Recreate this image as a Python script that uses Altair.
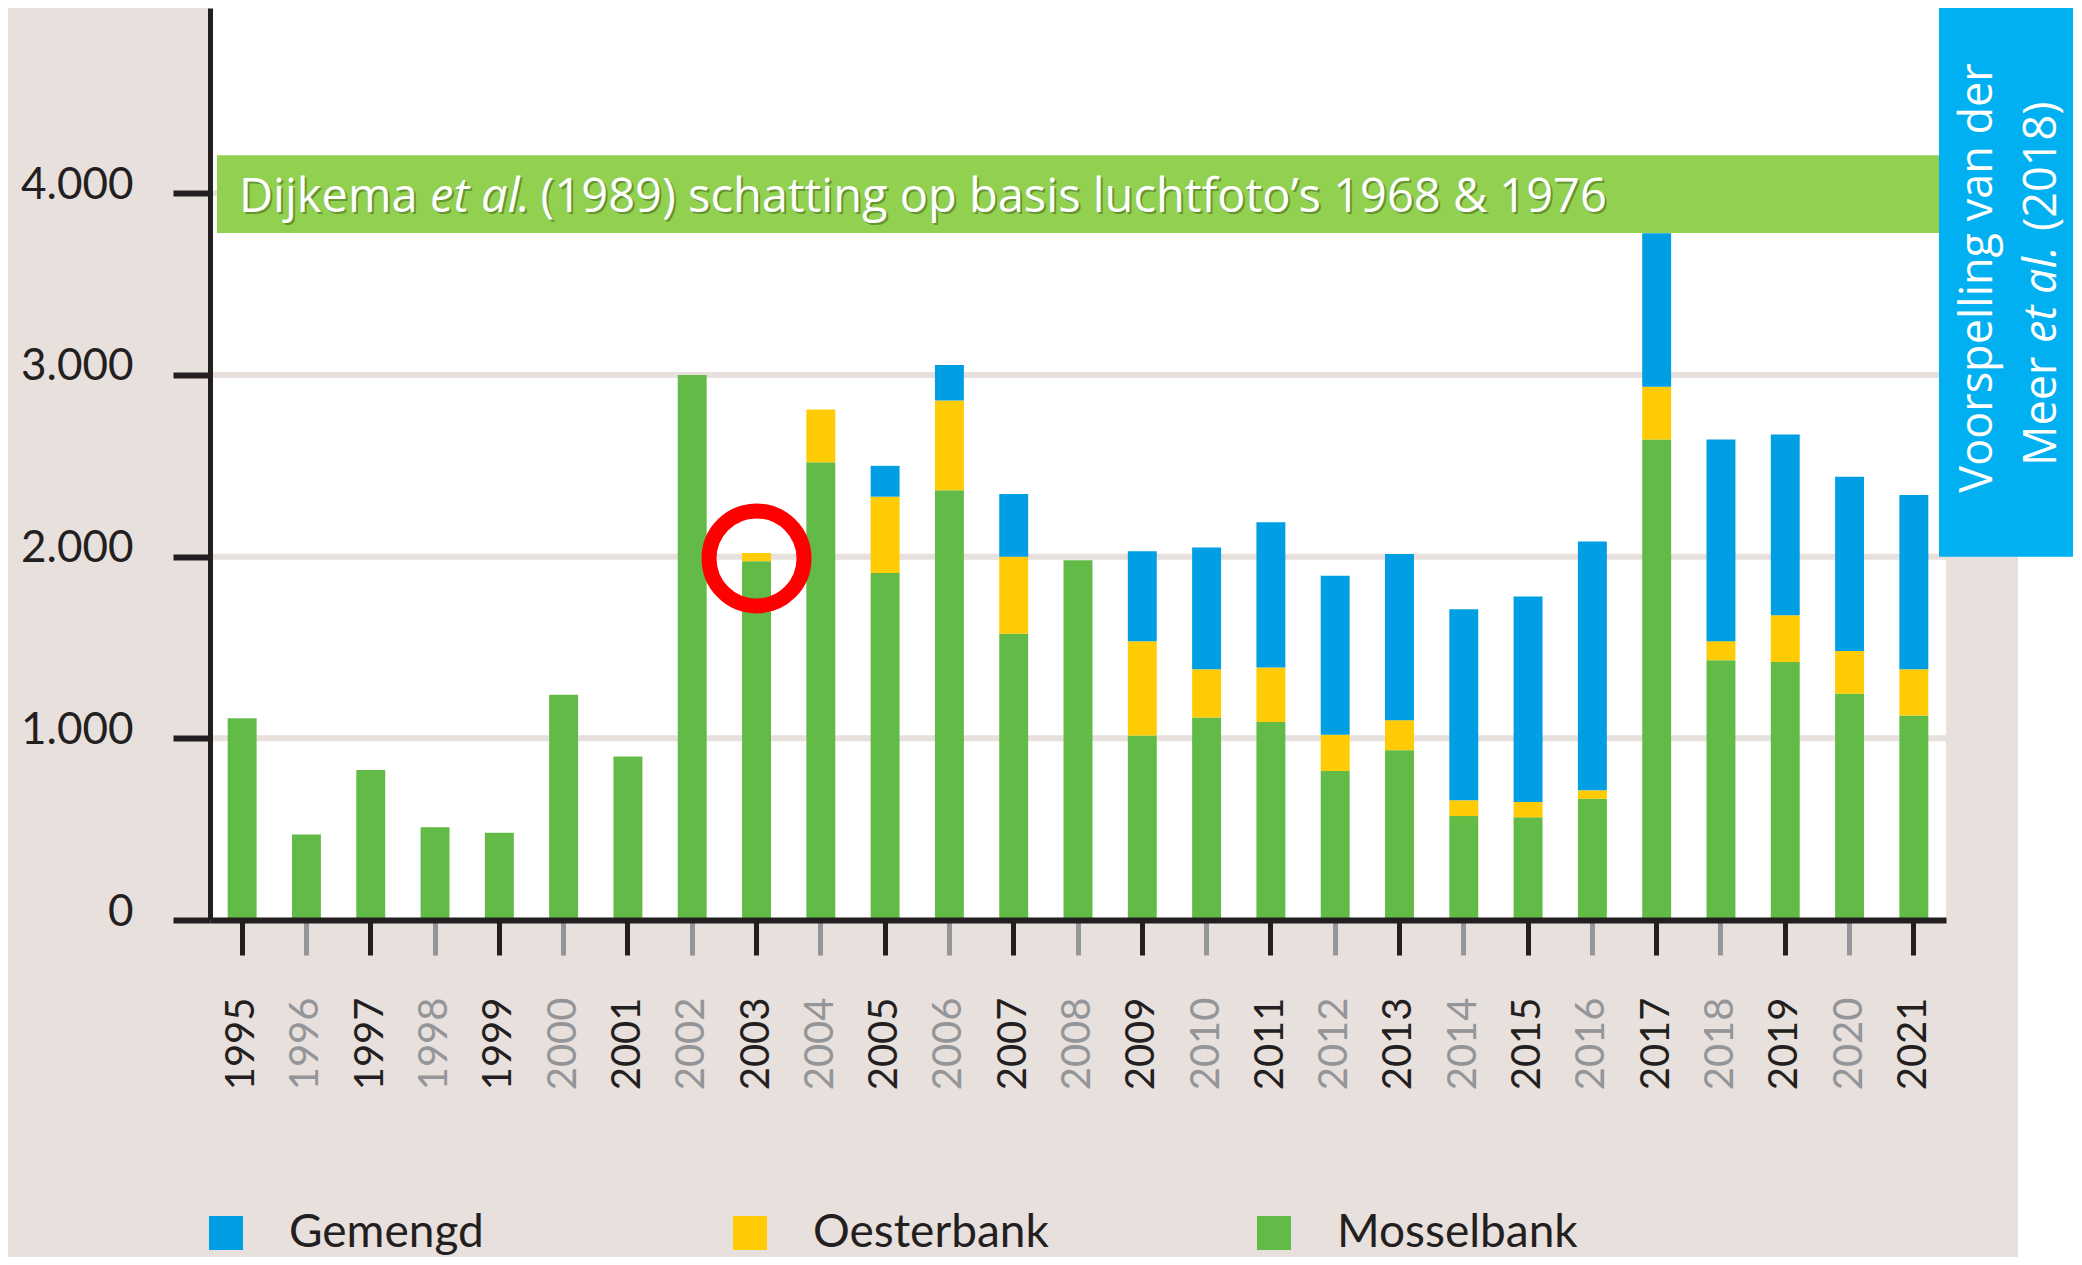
import altair as alt
import pandas as pd

# ---------------- data ----------------
years = list(range(1995, 2022))
mosselbank = [1110, 470, 825, 510, 480, 1240, 900, 3000, 1975, 2520, 1910, 2365, 1575,
              1980, 1015, 1115, 1090, 820, 935, 572, 565, 667, 2645, 1430, 1420, 1245, 1125]
oesterbank = [0, 0, 0, 0, 0, 0, 0, 0, 45, 290, 420, 495, 425,
              0, 520, 265, 300, 200, 165, 87, 85, 47, 290, 105, 257, 235, 255]
gemengd = [0, 0, 0, 0, 0, 0, 0, 0, 0, 0, 170, 195, 345,
           0, 495, 670, 800, 875, 915, 1052, 1130, 1370, 845, 1110, 995, 960, 960]
categories = ["Gemengd", "Oesterbank", "Mosselbank"]
stack_order = {"Mosselbank": 0, "Oesterbank": 1, "Gemengd": 2}
y_ticks = [0, 1000, 2000, 3000, 4000]
grid_values = [1000, 2000, 3000, 4000]
dijkema_range = [3781, 4210]      # estimate band (value range)
vandermeer_range = [2000, 5042]   # forecast box (value range)
highlight_year = 2003
highlight_value = 1990

# ---------------- styles ----------------
BEIGE = "#E8E0DC"
DARK = "#231F20"
GRAY = "#939598"
colors = ["#009FE3", "#FFCB05", "#62BB46"]
BAND_GREEN = "#92D050"
BOX_BLUE = "#00B0F0"

rows = []
for i, yr in enumerate(years):
    for cat, vals in (("Mosselbank", mosselbank), ("Oesterbank", oesterbank), ("Gemengd", gemengd)):
        rows.append({"Jaar": yr, "Type": cat, "Waarde": vals[i], "Volgorde": stack_order[cat]})
df = pd.DataFrame(rows)

W, H = 1736, 912
yscale = alt.Scale(domain=[0, 5020], nice=False, zero=True)
xscale = alt.Scale(paddingInner=0.55, paddingOuter=0.275)

xaxis = alt.Axis(
    title=None, labelAngle=270, labelFont="Lato", labelFontSize=40, labelPadding=42,
    labelOverlap=False,
    labelColor={"condition": {"test": "datum.value % 2 == 0", "value": GRAY}, "value": DARK},
    tickColor={"condition": {"test": "datum.value % 2 == 0", "value": GRAY}, "value": DARK},
    tickSize=35, tickWidth=5, domainColor=DARK, domainWidth=6, grid=False, zindex=1,
)
yaxis = alt.Axis(
    title=None, values=y_ticks, labelExpr="replace(format(datum.value, ','), ',', '.')",
    labelFont="Lato", labelFontSize=44, labelColor=DARK, labelPadding=40,
    labelBaseline="alphabetic", labelOffset=5,
    tickSize=37, tickWidth=6, tickColor=DARK, domainColor=DARK, domainWidth=5,
    grid=False, zindex=1,
)
legend = alt.Legend(
    title=None, orient="none", legendX=-7, legendY=1202, direction="horizontal",
    columns=3, gridAlign="all", columnPadding=197, symbolType="square", symbolSize=1156,
    symbolStrokeWidth=0, symbolOpacity=1, labelFont="Lato", labelFontSize=46,
    labelColor=DARK, labelOffset=40, labelLimit=500, padding=0,
)

bars = alt.Chart(df).mark_bar().encode(
    x=alt.X("Jaar:O", scale=xscale, axis=xaxis),
    y=alt.Y("Waarde:Q", stack="zero", scale=yscale, axis=yaxis),
    color=alt.Color("Type:N", scale=alt.Scale(domain=categories, range=colors), legend=legend),
    order=alt.Order("Volgorde:Q", sort="ascending"),
)

grid = alt.Chart(pd.DataFrame({"g": grid_values})).mark_rule(color=BEIGE, strokeWidth=6).encode(
    y=alt.Y("g:Q", scale=yscale, title=None)
)

band = alt.Chart(pd.DataFrame({"lo": [dijkema_range[0]], "hi": [dijkema_range[1]]})).mark_rect(
    color=BAND_GREEN).encode(
    y=alt.Y("lo:Q", scale=yscale, title=None), y2="hi:Q", x=alt.value(7), x2=alt.value(W)
)

one = pd.DataFrame({"a": [0]})


def txt(text, x, y, size, font, style="normal", color="white", angle=0, align="left",
        opacity=1.0):
    return alt.Chart(one).mark_text(
        font=font, fontSize=size, fontStyle=style, color=color, angle=angle, align=align,
        baseline="alphabetic", opacity=opacity,
    ).encode(x=alt.value(x), y=alt.value(y), text=alt.value(text))


band_parts = [("Dijkema", 29, "normal"), ("et al", 220, "italic"),
              (". (1989) schatting op basis luchtfoto’s 1968 & 1976", 306, "normal")]
band_texts = []
for t, x, st in band_parts:
    band_texts.append(txt(t, x + 2, 206, 47, "Open Sans", st, color="#2F4F10", opacity=0.45))
for t, x, st in band_parts:
    band_texts.append(txt(t, x, 204, 47, "Open Sans", st))

white_strip = alt.Chart(one).mark_rect(color="white").encode(
    x=alt.value(1808), x2=alt.value(1900), y=alt.value(-10), y2=alt.value(1300)
)

box = alt.Chart(pd.DataFrame({"lo": [vandermeer_range[0]], "hi": [vandermeer_range[1]]})).mark_rect(
    color=BOX_BLUE).encode(
    y=alt.Y("lo:Q", scale=yscale, title=None), y2="hi:Q", x=alt.value(1729), x2=alt.value(1863)
)

box_texts = [
    txt("Voorspelling van der", 1782, 270, 45, "Open Sans", angle=270, align="center"),
    txt("Meer", 1846, 458, 45, "Open Sans", angle=270),
    txt("et al.", 1846, 335, 45, "Open Sans", "italic", angle=270),
    txt("(2018)", 1846, 223, 45, "Open Sans", angle=270),
]

circle = alt.Chart(pd.DataFrame({"Jaar": [highlight_year], "v": [highlight_value]})).mark_point(
    shape="circle", size=9025, filled=False, color="#FF0000", strokeWidth=15, opacity=1
).encode(
    x=alt.X("Jaar:O", scale=xscale, title=None), y=alt.Y("v:Q", scale=yscale, title=None)
)

chart = alt.layer(
    grid, bars, band, *band_texts, white_strip, box, *box_texts, circle
).properties(
    width=W, height=H,
    autosize=alt.AutoSizeParams(type="none"),
    padding={"left": 202, "top": 0, "right": 128, "bottom": 337},
    background=BEIGE,
).configure_view(fill="white", strokeWidth=0)

chart.save("out.html", embed_options={"renderer": "svg", "actions": False})
